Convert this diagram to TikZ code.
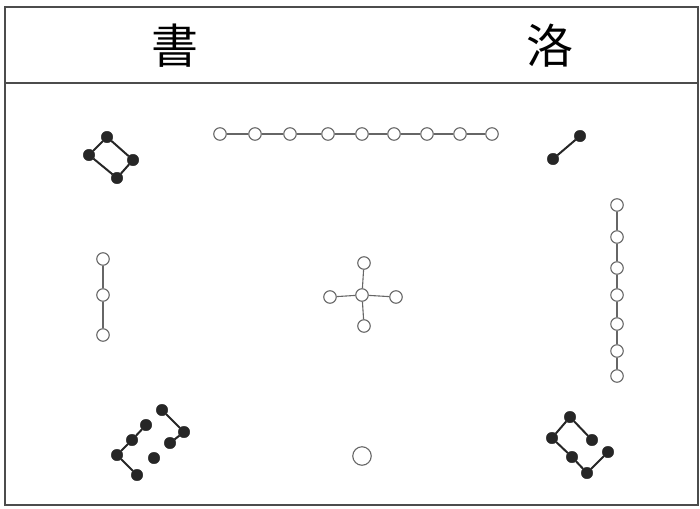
\documentclass[tikz,border=0pt]{standalone}
\usepackage{fontspec}
\newfontfamily\cjk{Noto Sans CJK TC}
\begin{document}
\begin{tikzpicture}[x=1pt,y=-1pt,
  yin/.style={circle,fill=black!85,draw=black!85,inner sep=0pt,minimum size=11.5pt},
  yang/.style={circle,fill=white,draw=black!60,line width=1.1pt,inner sep=0pt,minimum size=12.5pt},
  yinline/.style={draw=black!85,line width=2pt},
  yangline/.style={draw=black!60,line width=1.1pt},
  frame/.style={draw=black!70,line width=1.5pt}]
\useasboundingbox (0,0) rectangle (700,508);
\draw[frame] (5,7) rectangle (698,505);
\draw[draw=black!70,line width=2.8pt] (5,83) -- (698,83);
\node[font=\cjk\fontsize{47}{47}\selectfont] (t1) at (175,46) {書};
\node[font=\cjk\fontsize{47}{47}\selectfont] (t2) at (550,46) {洛};
% top row 9
\foreach \i/\x in {1/220,2/255,3/290,4/328,5/362,6/394,7/427,8/460,9/492}
  \node[yang] (n\i) at (\x,134) {};
\foreach \a/\b in {1/2,2/3,3/4,4/5,5/6,6/7,7/8,8/9}
  \draw[yangline] (n\a) -- (n\b);
% top-left 4
\node[yin] (a1) at (107,137) {};
\node[yin] (a2) at (133,160) {};
\node[yin] (a3) at (117,178) {};
\node[yin] (a4) at (89,155) {};
\draw[yinline] (a1) -- (a2) -- (a3) -- (a4) -- (a1);
% top-right 2
\node[yin] (b1) at (553,159) {};
\node[yin] (b2) at (580,136) {};
\draw[yinline] (b1) -- (b2);
% left 3
\node[yang] (c1) at (103,259) {};
\node[yang] (c2) at (103,295) {};
\node[yang] (c3) at (103,335) {};
\draw[yangline] (c1) -- (c2) -- (c3);
% right 7
\foreach \i/\y in {1/205,2/237,3/268,4/295,5/324,6/351,7/376}
  \node[yang] (d\i) at (617,\y) {};
\foreach \a/\b in {1/2,2/3,3/4,4/5,5/6,6/7}
  \draw[yangline] (d\a) -- (d\b);
% center 5
\node[yang] (e0) at (362,295) {};
\node[yang] (e1) at (364,263) {};
\node[yang] (e2) at (364,326) {};
\node[yang] (e3) at (330,297) {};
\node[yang] (e4) at (396,297) {};
\foreach \k in {1,2,3,4} \draw[yangline] (e0) -- (e\k);
% bottom-left 8
\node[yin] (f1) at (162,410) {};
\node[yin] (f2) at (184,432) {};
\node[yin] (f3) at (170,443) {};
\node[yin] (f4) at (146,425) {};
\node[yin] (f5) at (132,440) {};
\node[yin] (f6) at (117,455) {};
\node[yin] (f7) at (137,475) {};
\node[yin] (f8) at (154,458) {};
\draw[yinline] (f1) -- (f2) -- (f3);
\draw[yinline] (f4) -- (f5) -- (f6) -- (f7);
% bottom-right 6
\node[yin] (g1) at (592,440) {};
\node[yin] (g2) at (570,417) {};
\node[yin] (g3) at (552,438) {};
\node[yin] (g4) at (572,457) {};
\node[yin] (g5) at (587,473) {};
\node[yin] (g6) at (608,452) {};
\draw[yinline] (g1) -- (g2) -- (g3) -- (g4) -- (g5) -- (g6);
% bottom center 1
\node[yang,minimum size=18.5pt] (h1) at (362,456) {};
\end{tikzpicture}
\end{document}
